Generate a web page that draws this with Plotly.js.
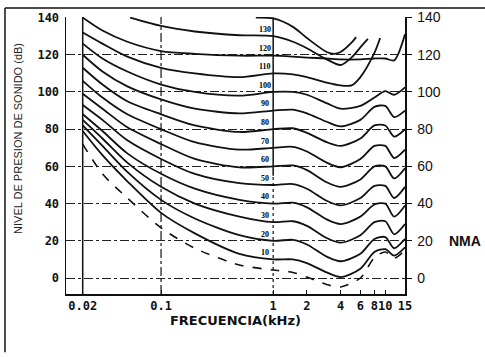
<!DOCTYPE html>
<html>
<head>
<meta charset="utf-8">
<script src="https://cdn.plot.ly/plotly-3.0.1.min.js"></script>
<style>html,body{margin:0;padding:0;background:#fff;}#chart{width:485px;height:357px;}</style>
</head>
<body>
<div id="chart"></div>
<script>
// ---- data ----
const FREQ = [0.02, 0.03, 0.05, 0.1, 0.2, 0.5, 1, 1.5, 2, 3, 4, 6, 8, 10, 12, 15];

const F140 = [0.7, 1, 1.5, 2, 3, 3.5, 4, 5, 5.5];
const L140 = [140, 139.5, 135, 129, 121.5, 120.5, 121.5, 126.5, 129.5];

const F130 = [0.053, 0.1, 0.2, 0.5, 1, 1.5, 2, 3, 4, 5, 6, 7];
const L130 = [140, 135.5, 132.5, 130.5, 130, 127, 123.5, 117.5, 114.5, 118.5, 124, 128.5];

const L120 = [140, 133, 127, 122, 120.5, 119.5, 119.5, 119, 118.5, 118, 117.5, 117.5, 118, 118, 117, 131];

const F110 = [0.02, 0.03, 0.05, 0.1, 0.2, 0.5, 1, 1.5, 2, 3, 4, 5, 6, 8, 9];
const L110 = [132, 126, 119, 113, 110, 108, 110, 109.5, 108, 105, 103.5, 103.5, 108, 121, 129];

const L100 = [126, 118, 111, 104, 100, 98, 100, 100, 98.5, 94, 91, 92.5, 97, 100.5, 98.5, 102.5];
const L90  = [120, 111, 103, 96, 91, 88.5, 90, 90.5, 88.5, 84, 81.5, 85, 92, 92.5, 86.5, 90];
const L80  = [113, 104, 95, 88, 82, 78.5, 80, 80.5, 78, 73, 71, 75, 82, 82, 76, 80];
const L70  = [106, 97, 88, 80, 73, 69, 70, 70.5, 68, 62, 59.5, 64, 71, 71, 64.5, 69];
const L60  = [99, 91, 81, 72, 64, 59.5, 60, 60.5, 58, 51.5, 49, 53, 60, 60, 53.5, 59];
const L50  = [93, 85, 74, 64, 56, 51, 50, 50.5, 48, 41.5, 39, 43, 49.5, 49.5, 43, 49];
const L40  = [88, 79, 67, 56, 48, 42, 40, 40.5, 38, 31.5, 29, 33, 39.5, 40, 33, 39];
const L30  = [85, 75, 62, 49, 40, 33, 30, 30.5, 28, 21.5, 19, 23, 30, 30.5, 23.5, 29];
const L20  = [82, 71, 57, 42, 32, 23, 20, 20.5, 18, 11.5, 9, 13, 21, 22, 16, 21];
const L10  = [79, 66, 52, 35, 24, 13, 10, 10, 8, 3, 0.5, 5, 14, 15.5, 12, 16.5];
const LTH  = [72, 56, 43, 27, 16, 7, 4.3, 3, 0.5, -3.5, -4.8, 0, 11, 14, 10.7, 15];

const PHON = [130, 120, 110, 100, 90, 80, 70, 60, 50, 40, 30, 20, 10];
const PHON_LABELS = ['130', '120', '110', '100', '90', '80', '70', '60', '50', '40', '30', '20', '10'];

const X_TICKS = [0.02, 0.1, 1, 2, 4, 6, 8, 10, 15];
const X_TICK_TEXT = ['0.02', '0.1', '1', '2', '4', '6', '8', '10', '15'];
const Y_TICKS = [0, 20, 40, 60, 80, 100, 120, 140];
const Y_TICK_TEXT = ['0', '20', '40', '60', '80', '100', '120', '140'];

const X_TITLE = 'FRECUENCIA(kHz)';
const Y_TITLE = 'NIVEL DE PRESION DE SONIDO (dB)';
const RIGHT_NOTE = 'NMA';

// ---- traces ----
const solid = {color: '#111', width: 1.8, shape: 'spline', smoothing: 0.8};
function curve(x, y, line) {
  return {type: 'scatter', mode: 'lines', x: x, y: y, line: line || solid,
          hoverinfo: 'skip', showlegend: false, connectgaps: false};
}
const traces = [
  curve(F140, L140), curve(F130, L130), curve(FREQ, L120), curve(F110, L110),
  curve(FREQ, L100), curve(FREQ, L90), curve(FREQ, L80), curve(FREQ, L70),
  curve(FREQ, L60), curve(FREQ, L50), curve(FREQ, L40), curve(FREQ, L30),
  curve(FREQ, L20), curve(FREQ, L10),
  curve(FREQ, LTH, {color: '#111', width: 1.6, dash: 'dash', shape: 'spline', smoothing: 0.8}),
  {type: 'scatter', mode: 'lines', x: [FREQ[0]], y: [null], yaxis: 'y2', hoverinfo: 'skip', showlegend: false}
];

// ---- annotations ----
const annotations = PHON.map((p, i) => ({
  x: Math.log10(0.84), y: p + 3.6, xref: 'x', yref: 'y', text: PHON_LABELS[i],
  showarrow: false, xanchor: 'center', yanchor: 'middle',
  font: {family: 'Liberation Serif', size: 8, color: '#000', weight: 'bold'}
}));
annotations.push({
  x: 1.125, y: 20, xref: 'paper', yref: 'y', text: RIGHT_NOTE, showarrow: false,
  xanchor: 'left', yanchor: 'middle',
  font: {family: 'Liberation Sans', size: 14, color: '#111', weight: 'bold'}
});
annotations.push({
  x: -0.142, y: 0.563, xref: 'paper', yref: 'paper', text: Y_TITLE, showarrow: false,
  textangle: -90, xanchor: 'center', yanchor: 'middle',
  font: {family: 'Liberation Sans', size: 11, color: '#222'}
});

// ---- shapes: vertical reference lines and outer frame ----
const shapes = [
  {type: 'line', xref: 'x', yref: 'paper', x0: 0.02, x1: 0.02, y0: 0, y1: 1,
   line: {color: '#111', width: 1.5}},
  {type: 'line', xref: 'x', yref: 'paper', x0: 0.1, x1: 0.1, y0: 0, y1: 1,
   line: {color: '#111', width: 1.2, dash: 'dashdot'}},
  {type: 'line', xref: 'x', yref: 'y', x0: 1, x1: 1, y0: 55, y1: 140,
   line: {color: '#111', width: 1.5}},
  {type: 'line', xref: 'x', yref: 'y', x0: 1, x1: 1, y0: -8.6, y1: 55,
   line: {color: '#111', width: 1.2, dash: 'dot'}},
  {type: 'line', xref: 'paper', yref: 'paper', x0: -0.18, x1: 1.24, y0: 1.0325, y1: 1.0325,
   line: {color: '#111', width: 1.5}},
  {type: 'line', xref: 'paper', yref: 'paper', x0: -0.18, x1: -0.18, y0: 1.0325, y1: -0.21,
   line: {color: '#111', width: 1.5}}
];

const layout = {
  width: 485, height: 357,
  margin: {l: 66, r: 80, t: 17, b: 63, pad: 0},
  paper_bgcolor: '#fff', plot_bgcolor: '#fff',
  showlegend: false,
  xaxis: {
    type: 'log', range: [-1.848, 1.176], showgrid: false, zeroline: false,
    showline: true, linecolor: '#111', linewidth: 1.5, mirror: false,
    tickmode: 'array', tickvals: X_TICKS, ticktext: X_TICK_TEXT, tickangle: 0,
    ticks: 'inside', ticklen: 4, tickcolor: '#111',
    tickfont: {family: 'DejaVu Sans Mono', size: 12, color: '#111', weight: 'bold'},
    title: {text: X_TITLE, standoff: 4,
            font: {family: 'DejaVu Sans', size: 13, color: '#111', weight: 'bold'}}
  },
  yaxis: {
    range: [-8.6, 140.3], showgrid: true, gridcolor: '#222', gridwidth: 1, griddash: 'dashdot',
    zeroline: false, showline: true, linecolor: '#111', linewidth: 1.5,
    tickmode: 'array', tickvals: Y_TICKS, ticktext: Y_TICK_TEXT,
    ticks: '', ticklabelstandoff: 3,
    tickfont: {family: 'DejaVu Sans Mono', size: 12, color: '#111', weight: 'bold'}
  },
  yaxis2: {
    overlaying: 'y', side: 'right', range: [-8.6, 140.3], showgrid: false, zeroline: false,
    showline: true, linecolor: '#111', linewidth: 1.5,
    tickmode: 'array', tickvals: Y_TICKS, ticktext: Y_TICK_TEXT,
    ticks: 'outside', ticklen: 5, tickcolor: '#111', ticklabelstandoff: 3,
    tickfont: {family: 'Liberation Sans', size: 14, color: '#111'}
  },
  annotations: annotations,
  shapes: shapes
};

Plotly.newPlot('chart', traces, layout, {staticPlot: true, displayModeBar: false});
</script>
</body>
</html>
